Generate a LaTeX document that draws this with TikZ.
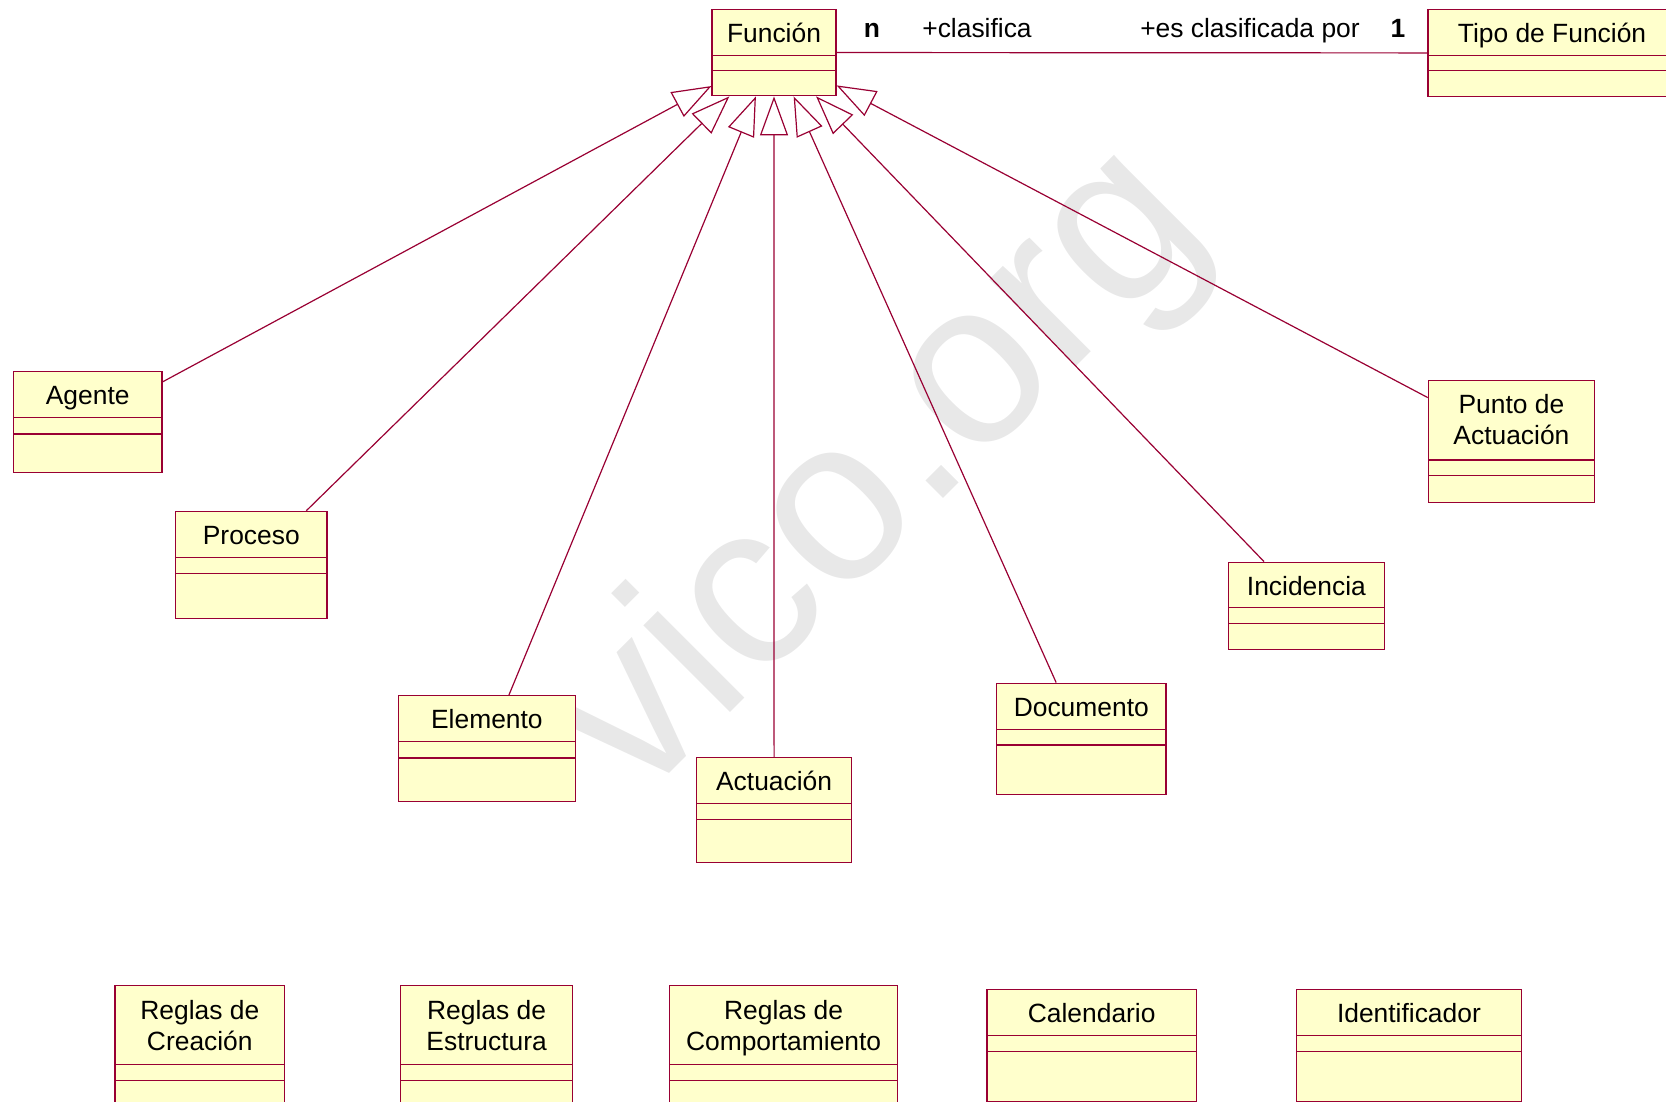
\documentclass[tikz,border=0pt]{standalone}
\usepackage{fontspec}
\setmainfont{Liberation Sans}
\usetikzlibrary{arrows.meta}
\usetikzlibrary{positioning}
\usetikzlibrary{shapes.multipart}

\definecolor{borde}{RGB}{153,0,51}
\definecolor{relleno}{RGB}{255,255,204}
\definecolor{marca}{RGB}{232,232,232}

\begin{document}
\begin{tikzpicture}[x=1pt,y=-1pt,every node/.style={font=\fontsize{13.2}{15.5}\selectfont}]
\tikzstyle{clase} = [rectangle split, rectangle split parts=3, draw=borde, fill=relleno, line width=0.6pt, inner sep=0pt]
\tikzstyle{gen} = [draw=borde, line width=0.6pt, -{Triangle[length=19.5pt,width=14pt,fill=white]}]
\tikzstyle{asoc} = [draw=borde, line width=0.6pt]
\tikzstyle{rol} = [anchor=base, inner sep=0pt]
\useasboundingbox (0,0) rectangle (833,551);
\clip (0,0) rectangle (833,551);

\node[text=marca, rotate=45, font=\fontsize{116}{116}\selectfont] (marca) at (441,238) {vico.org};

\node[clase] (funcion) at (387,26.25) {\parbox[c][22.5pt][t]{62pt}{\centering\rule{0pt}{16.2pt}Función}
  \nodepart{two}\rule{0pt}{7pt}\nodepart{three}\rule{0pt}{12pt}};
\node[clase] (tipo) at (776,26.5) {\parbox[c][22.5pt][t]{124pt}{\centering\rule{0pt}{16.2pt}Tipo de Función}
  \nodepart{two}\rule{0pt}{7pt}\nodepart{three}\rule{0pt}{12.5pt}};

\node[clase] (agente) at (43.85,211.1) {\parbox[c][22.5pt][t]{74.3pt}{\centering\rule{0pt}{16.3pt}Agente}
  \nodepart{two}\rule{0pt}{7.5pt}\nodepart{three}\rule{0pt}{18.8pt}};
\node[clase] (proceso) at (125.65,282.4) {\parbox[c][22.4pt][t]{75.7pt}{\centering\rule{0pt}{16.2pt}Proceso}
  \nodepart{two}\rule{0pt}{7.5pt}\nodepart{three}\rule{0pt}{21.8pt}};
\node[clase] (elemento) at (243.45,374.35) {\parbox[c][22.5pt][t]{88.5pt}{\centering\rule{0pt}{16.2pt}Elemento}
  \nodepart{two}\rule{0pt}{7.5pt}\nodepart{three}\rule{0pt}{21.3pt}};
\node[clase] (actuacion) at (387.05,405.1) {\parbox[c][22.3pt][t]{77.5pt}{\centering\rule{0pt}{16.2pt}Actuación}
  \nodepart{two}\rule{0pt}{7.5pt}\nodepart{three}\rule{0pt}{21pt}};
\node[clase] (documento) at (540.65,369.35) {\parbox[c][22.5pt][t]{84.7pt}{\centering\rule{0pt}{16.2pt}Documento}
  \nodepart{two}\rule{0pt}{7.2pt}\nodepart{three}\rule{0pt}{24pt}};
\node[clase] (incidencia) at (653.2,302.85) {\parbox[c][22.2pt][t]{78pt}{\centering\rule{0pt}{16.2pt}Incidencia}
  \nodepart{two}\rule{0pt}{7.1pt}\nodepart{three}\rule{0pt}{12.4pt}};
\node[clase] (punto) at (755.7,220.85) {\parbox[c][39.1pt][t]{83pt}{\centering\rule{0pt}{16pt}Punto de\\Actuación}
  \nodepart{two}\rule{0pt}{7.2pt}\nodepart{three}\rule{0pt}{13pt}};

% reglas y demas clases sueltas
\node[clase] (creacion) at (99.9,531.75) {\parbox[c][39pt][t]{84.8pt}{\centering\rule{0pt}{16.6pt}Reglas de\\Creación}
  \nodepart{two}\rule{0pt}{7.5pt}\nodepart{three}\rule{0pt}{30pt}};
\node[clase] (estructura) at (243.3,531.75) {\parbox[c][39pt][t]{86pt}{\centering\rule{0pt}{16.6pt}Reglas de\\Estructura}
  \nodepart{two}\rule{0pt}{7.5pt}\nodepart{three}\rule{0pt}{30pt}};
\node[clase] (comportamiento) at (391.8,531.75) {\parbox[c][39pt][t]{114.2pt}{\centering\rule{0pt}{16.6pt}Reglas de\\Comportamiento}
  \nodepart{two}\rule{0pt}{7.5pt}\nodepart{three}\rule{0pt}{30pt}};
\node[clase] (calendario) at (545.85,522.75) {\parbox[c][22.5pt][t]{104.7pt}{\centering\rule{0pt}{16.3pt}Calendario}
  \nodepart{two}\rule{0pt}{7.5pt}\nodepart{three}\rule{0pt}{24.5pt}};
\node[clase] (identificador) at (704.45,522.75) {\parbox[c][22.5pt][t]{112.7pt}{\centering\rule{0pt}{16.3pt}Identificador}
  \nodepart{two}\rule{0pt}{7.5pt}\nodepart{three}\rule{0pt}{24.5pt}};

\draw[asoc] (funcion) -- (tipo);
\node[rol, font=\fontsize{13.2}{15.5}\selectfont\bfseries] (mult-n) at (436,19) {n};
\node[rol] (rol-clasifica) at (488.5,19) {+clasifica};
\node[rol] (rol-clasificada) at (625,19) {+es clasificada por};
\node[rol, font=\fontsize{13.2}{15.5}\selectfont\bfseries] (mult-1) at (699,19) {1};

\draw[gen] (agente) edge (funcion);
\draw[gen] (proceso) edge (funcion);
\draw[gen] (elemento) edge (funcion);
\draw[gen] (actuacion) edge (funcion);
\draw[gen] (documento) edge (funcion);
\draw[gen] (incidencia) edge (funcion);
\draw[gen] (punto) edge (funcion);
\end{tikzpicture}
\end{document}
